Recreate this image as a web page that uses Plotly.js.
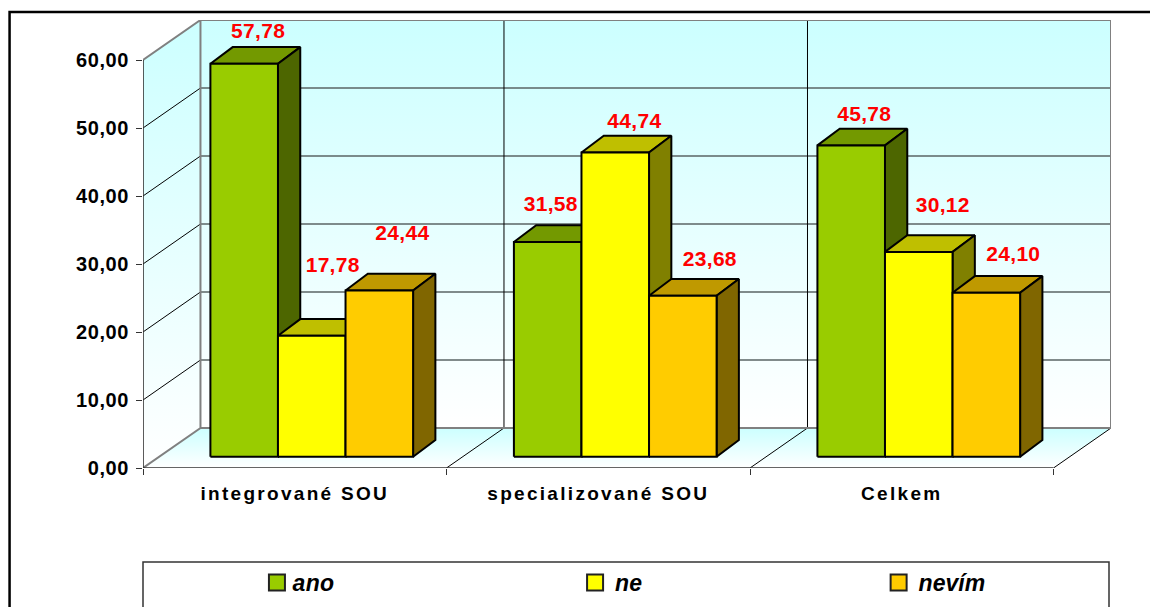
<!DOCTYPE html>
<html>
<head>
<meta charset="utf-8">
<script src="https://cdn.plot.ly/plotly-3.0.1.min.js"></script>
<style>
html,body{margin:0;padding:0;background:#fff;overflow:hidden}
.xtick text{letter-spacing:2.3px}
.ytick text{letter-spacing:0.6px}
.textpoint text{letter-spacing:0.3px}
.legendtext{letter-spacing:0.4px;transform:translateX(-4.5px)}
</style>
</head>
<body>
<div id="chart" style="width:1150px;height:607px"></div>
<script>
// ---- data ----
var categories = ["integrované SOU", "specializované SOU", "Celkem"];
var seriesNames = ["ano", "ne", "nevím"];
var ano = [57.78, 31.58, 45.78];
var ne = [17.78, 44.74, 30.12];
var nevim = [24.44, 23.68, 24.10];
var yTicks = [0, 10, 20, 30, 40, 50, 60];

// ---- styles ----
var frontColors = ["#99CC00", "#FFFF00", "#FFCC00"];
var topColors = ["#739900", "#BFBF00", "#BF9900"];
var sideColors = ["#4D6600", "#808000", "#806600"];
// hand-placed label offsets in the original, [x in category units, y in value units], per series, per category
var labelDX = [[0.046, 0.010, 0.043], [0.069, 0.063, 0.079], [0.076, 0.089, 0.089]];
var labelDY = [[4.6, 5.35, 4.3], [10.2, 4.3, 6.65], [8.15, 5.2, 5.5]];
var legendMarkerPx = [277.5, 595.8, 899.5];

// ---- projection constants, in axis units ----
var pxX = 303.67, pxY = 6.8;
var wallDX = 57.5 / pxX, wallDY = 40 / pxY;
var barDX = 17 / pxX, barDY = 11.3 / pxY;
var depthDX = 22.3 / pxX, depthDY = 16.7 / pxY;
var barW = 67.6 / pxX, gapW = (1 - 3 * barW) / 2;
var nCat = categories.length, yMax = yTicks[yTicks.length - 1];
var series = [ano, ne, nevim];
var hw = 968.5, hh = 448, ml = 142.5, mt = 20;
function px(x) { return (x - ml) / hw; }
function py(y) { return 1 - (y - mt) / hh; }

var traces = [];
function poly(xs, ys, fill, lineColor, lineW, extra) {
  var t = {x: xs, y: ys, mode: "lines", fill: "toself", fillcolor: fill,
    line: {color: lineColor, width: lineW}, hoverinfo: "skip", showlegend: false};
  if (extra) for (var k in extra) t[k] = extra[k];
  traces.push(t);
}
function lines(xs, ys, color, w) {
  traces.push({x: xs, y: ys, mode: "lines", line: {color: color, width: w}, hoverinfo: "skip", showlegend: false});
}
var wallGrad = {fillgradient: {type: "vertical", colorscale: [[0, "#FFFFFF"], [1, "#CCFFFF"]]}};

// walls and floor
poly([0, wallDX, wallDX, 0, 0], [0, wallDY, yMax + wallDY, yMax, 0], "#fff", "rgba(0,0,0,0)", 0, wallGrad);
poly([wallDX, nCat + wallDX, nCat + wallDX, wallDX, wallDX], [wallDY, wallDY, yMax + wallDY, yMax + wallDY, wallDY], "#fff", "rgba(0,0,0,0)", 0, wallGrad);
poly([0, nCat, nCat + wallDX, wallDX, 0], [0, 0, wallDY, wallDY, 0], "#fff", "rgba(0,0,0,0)", 0, wallGrad);

// gridlines
var gx = [], gy = [];
yTicks.slice(1, -1).forEach(function (v) {
  gx.push(wallDX, nCat + wallDX, null); gy.push(v + wallDY, v + wallDY, null);
});
lines(gx, gy, "#5A6464", 1.6);
var dx = [], dy = [];
yTicks.slice(1, -1).forEach(function (v) {
  dx.push(0, wallDX, null); dy.push(v, v + wallDY, null);
});
for (var c = 1; c <= nCat; c++) {
  if (c < nCat) { dx.push(c + wallDX, c + wallDX, null); dy.push(wallDY, yMax + wallDY, null); }
  dx.push(c, c + wallDX, null); dy.push(0, wallDY, null);
}
lines(dx, dy, "#000000", 1);

// wall borders
lines([0, wallDX, wallDX, nCat + wallDX, nCat + wallDX, wallDX, wallDX, 0],
      [0, wallDY, yMax + wallDY, yMax + wallDY, wallDY, wallDY, yMax + wallDY, yMax], "#808080", 2);
// axis lines
lines([0, 0, nCat], [yMax, 0, 0], "#333333", 1.6);

// bars
categories.forEach(function (cat, ci) {
  seriesNames.forEach(function (nm, si) {
    var v = series[si][ci];
    var x0 = ci + barDX + gapW + si * barW, x1 = x0 + barW;
    var b = barDY, t = barDY + v;
    poly([x0, x1, x1 + depthDX, x0 + depthDX, x0], [t, t, t + depthDY, t + depthDY, t], topColors[si], "#000", 2);
    poly([x1, x1 + depthDX, x1 + depthDX, x1, x1], [b, b + depthDY, t + depthDY, t, b], sideColors[si], "#000", 2);
    poly([x0, x1, x1, x0, x0], [b, b, t, t, b], frontColors[si], "#000", 2);
  });
});

// data labels
seriesNames.forEach(function (nm, si) {
  traces.push({
    x: categories.map(function (c, ci) { return ci + barDX + gapW + (si + 0.5) * barW + labelDX[si][ci]; }),
    y: series[si].map(function (v, ci) { return barDY + v + labelDY[si][ci]; }),
    text: series[si].map(function (v) { return v.toFixed(2).replace(".", ","); }),
    mode: "text", textposition: "middle center", cliponaxis: false,
    textfont: {family: "Liberation Sans", size: 21, color: "#FF0000", weight: "bold"},
    hoverinfo: "skip", showlegend: false
  });
});

// legend entries, each in its own legend because the original spacing is uneven
seriesNames.forEach(function (nm, si) {
  traces.push({x: [null], y: [null], name: nm, mode: "markers", hoverinfo: "skip",
    legend: si === 0 ? "legend" : "legend" + (si + 1), showlegend: true,
    marker: {symbol: "square", size: 16.5, color: frontColors[si], line: {color: "#222", width: 2}}});
});
function legendAt(i) {
  return {
    orientation: "h", x: px(legendMarkerPx[i] - 21), xanchor: "left", y: py(561), yanchor: "top",
    bgcolor: "rgba(0,0,0,0)", borderwidth: 0,
    font: {family: "Liberation Sans", size: 23, weight: "bold", style: "italic", color: "#000"}
  };
}

var layout = {
  width: 1150, height: 607,
  margin: {l: ml, r: 1150 - ml - hw, t: mt, b: 607 - mt - hh, pad: 0, autoexpand: false},
  paper_bgcolor: "#fff", plot_bgcolor: "rgba(0,0,0,0)",
  separators: ",.",
  font: {family: "Liberation Sans", color: "#000"},
  xaxis: {
    range: [0, nCat + wallDX], showgrid: false, zeroline: false, showline: false, fixedrange: true,
    tickmode: "array", tickvals: categories.map(function (c, i) { return i + 0.5; }), ticktext: categories,
    ticks: "", ticklabelstandoff: 12,
    tickfont: {family: "Liberation Sans", size: 19, weight: "bold", color: "#000"},
    minor: {tickmode: "array", tickvals: [0, 1, 2, 3], ticks: "outside", ticklen: 6, tickwidth: 1, tickcolor: "#333", showgrid: false}
  },
  yaxis: {
    range: [0, yMax + wallDY], showgrid: false, zeroline: false, showline: false, fixedrange: true,
    tickmode: "array", tickvals: yTicks, tickformat: ".2f",
    ticks: "outside", ticklen: 6, tickwidth: 1, tickcolor: "#333", ticklabelstandoff: 3,
    tickfont: {family: "Liberation Sans", size: 20, weight: "bold", color: "#000"}
  },
  showlegend: true,
  legend: legendAt(0),
  legend2: legendAt(1),
  legend3: legendAt(2),
  shapes: [
    {type: "rect", xref: "paper", yref: "paper", x0: px(9), x1: px(1160), y0: py(12), y1: py(620),
     line: {color: "#000", width: 2.5}, fillcolor: "rgba(0,0,0,0)", layer: "below"},
    {type: "rect", xref: "paper", yref: "paper", x0: px(142.5), x1: px(1109), y0: py(562), y1: py(620),
     line: {color: "#333", width: 1.5}, fillcolor: "rgba(0,0,0,0)", layer: "below"}
  ]
};
Plotly.newPlot("chart", traces, layout, {displayModeBar: false, staticPlot: true});
</script>
</body>
</html>
